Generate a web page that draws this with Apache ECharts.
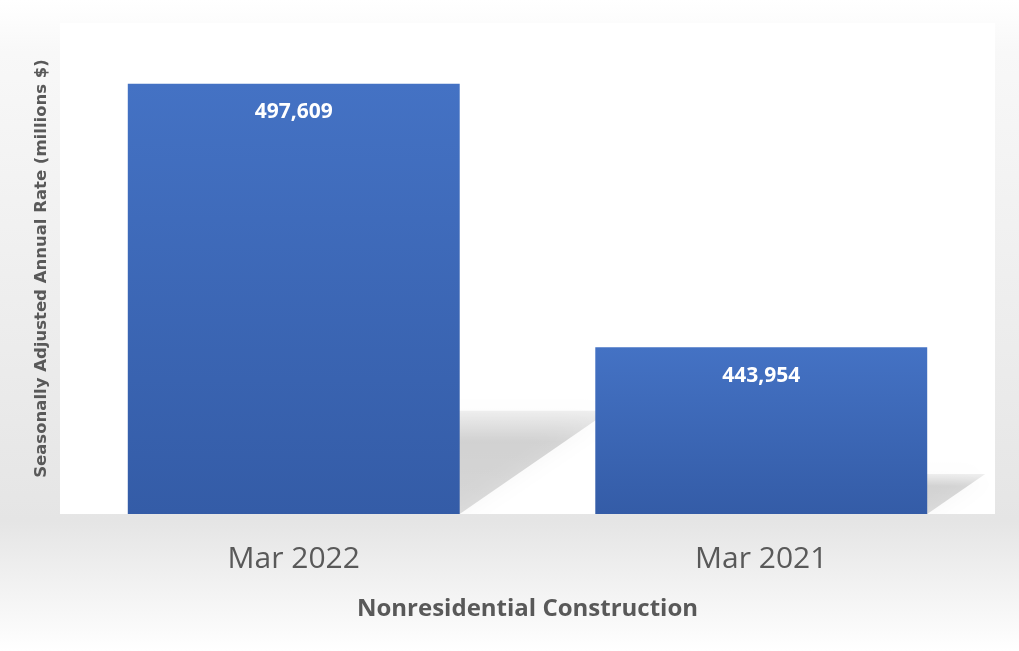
<!DOCTYPE html>
<html>
<head>
<meta charset="utf-8">
<script src="https://cdn.jsdelivr.net/npm/echarts@6/dist/echarts.min.js"></script>
<style>
  html, body { margin: 0; padding: 0; background: #fff; }
  #chart { width: 1019px; height: 651px; }
</style>
</head>
<body>
<div id="chart"></div>
<script>
const categories = ['Mar 2022', 'Mar 2021'];
const values = [497609, 443954];
const yMin = 410000;
const yMax = 510000;
const xTitle = 'Nonresidential Construction';
const yTitle = 'Seasonally Adjusted Annual Rate (millions $)';

const chart = echarts.init(document.getElementById('chart'), null, { renderer: 'canvas' });
const BAR_RATIO = 0.71;

const option = {
  animation: false,
  backgroundColor: {
    type: 'linear', x: 0, y: 0, x2: 0, y2: 1,
    colorStops: [
      { offset: 0, color: '#ffffff' },
      { offset: 0.08, color: '#f8f8f8' },
      { offset: 0.8, color: '#e5e5e5' },
      { offset: 0.97, color: '#fbfbfb' },
      { offset: 1, color: '#ffffff' }
    ]
  },
  grid: {
    left: 60, right: 24, top: 23, bottom: 137,
    show: true, backgroundColor: '#ffffff', borderWidth: 0
  },
  xAxis: {
    type: 'category',
    data: categories,
    axisLine: { show: false },
    axisTick: { show: false },
    axisLabel: {
      color: '#595959', fontFamily: 'Open Sans', fontSize: 30, margin: 30
    },
    name: xTitle,
    nameLocation: 'middle',
    nameGap: 83,
    nameTextStyle: {
      color: '#595959', fontFamily: 'Open Sans', fontWeight: 'bold', fontSize: 24
    }
  },
  yAxis: {
    type: 'value',
    min: yMin, max: yMax,
    axisLine: { show: false },
    axisTick: { show: false },
    axisLabel: { show: false },
    splitLine: { show: false },
    name: yTitle,
    nameLocation: 'middle',
    nameRotate: 90,
    nameGap: 10,
    nameTextStyle: {
      color: '#595959', fontFamily: 'DejaVu Sans', fontWeight: 'bold', fontSize: 16.5
    }
  },
  series: [
    {
      type: 'custom',
      z: 1,
      silent: true,
      clip: true,
      data: categories.map((c, i) => [i, values[i]]),
      renderItem: function (params, api) {
        const base = api.coord([api.value(0), yMin]);
        const top = api.coord([api.value(0), api.value(1)]);
        const bw = api.size([1, 0])[0] * BAR_RATIO;
        const h = base[1] - top[1];
        const sh = h * 0.24;
        const dx = sh * 1.45;
        const xl = base[0] - bw / 2;
        const xr = base[0] + bw / 2;
        const yb = base[1];
        return {
          type: 'polygon',
          shape: { points: [[xl, yb], [xr, yb], [xr + dx, yb - sh], [xl + dx, yb - sh]] },
          style: {
            fill: {
              type: 'linear', x: 0, y: 0, x2: 0, y2: 1,
              colorStops: [
                { offset: 0, color: 'rgba(0,0,0,0.06)' },
                { offset: 0.3, color: 'rgba(0,0,0,0.15)' },
                { offset: 1, color: 'rgba(0,0,0,0.13)' }
              ]
            },
            shadowBlur: 22,
            shadowColor: 'rgba(0,0,0,0.25)'
          }
        };
      }
    },
    {
      type: 'bar',
      z: 2,
      data: values,
      barWidth: (BAR_RATIO * 100) + '%',
      itemStyle: {
        color: {
          type: 'linear', x: 0, y: 0, x2: 0, y2: 1,
          colorStops: [
            { offset: 0, color: '#4472c4' },
            { offset: 1, color: '#345ca7' }
          ]
        }
      },
      label: {
        show: true,
        position: 'insideTop',
        distance: 18,
        color: '#ffffff',
        fontFamily: 'Open Sans',
        fontWeight: 'bold',
        fontSize: 21,
        formatter: p => p.value.toLocaleString('en-US')
      }
    }
  ]
};
chart.setOption(option);
</script>
</body>
</html>
